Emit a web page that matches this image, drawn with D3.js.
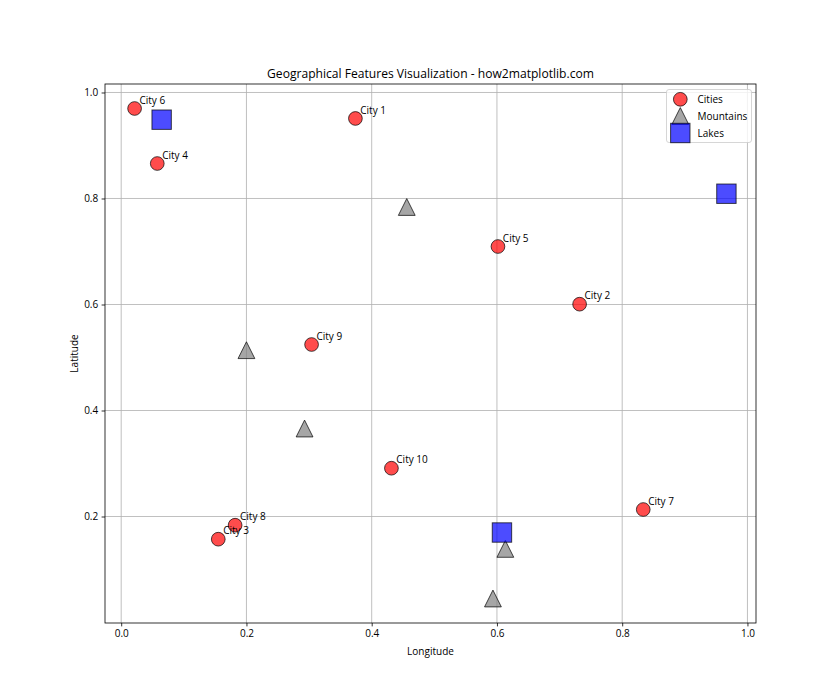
<!DOCTYPE html>
<html><head><meta charset="utf-8">
<script src="https://cdn.jsdelivr.net/npm/d3@7"></script>
<style>body{margin:0;background:#fff}svg{display:block}text{font-family:"Open Sans",sans-serif}</style>
</head><body><svg id="c" width="840" height="700"></svg>
<script>
const cityNames = ["City 1","City 2","City 3","City 4","City 5","City 6","City 7","City 8","City 9","City 10"];
const cityLon = [0.374,0.732,0.155,0.0576,0.6016,0.0214,0.8336,0.1819,0.304,0.4315];
const cityLat = [0.951,0.6006,0.1572,0.866,0.7094,0.9698,0.2132,0.1836,0.5245,0.2911];
const mountainLon = [0.456,0.200,0.2928,0.6134,0.5936];
const mountainLat = [0.784,0.5138,0.366,0.1389,0.0453];
const lakeLon = [0.0646,0.9664,0.608];
const lakeLat = [0.9487,0.809,0.1698];
const xTicks = [0.0,0.2,0.4,0.6,0.8,1.0];
const yTicks = [0.2,0.4,0.6,0.8,1.0];
const legendLabels = ["Cities","Mountains","Lakes"];

const svg = d3.select("#c");
const L=105, R=756, T=84, B=623;
const allX = cityLon.concat(mountainLon, lakeLon), allY = cityLat.concat(mountainLat, lakeLat);
const xmn=d3.min(allX), xmx=d3.max(allX), ymn=d3.min(allY), ymx=d3.max(allY);
const mx=(xmx-xmn)*0.05, my=(ymx-ymn)*0.05;
const x = d3.scaleLinear().domain([xmn-mx, xmx+mx]).range([L,R]);
const y = d3.scaleLinear().domain([ymn-my, ymx+my]).range([B,T]);

// grid
const g = svg.append("g");
g.selectAll(".gx").data(xTicks).enter().append("line")
  .attr("x1",d=>x(d)).attr("x2",d=>x(d)).attr("y1",T).attr("y2",B)
  .attr("stroke","#b0b0b0").attr("stroke-width",0.8);
g.selectAll(".gy").data(yTicks).enter().append("line")
  .attr("y1",d=>y(d)).attr("y2",d=>y(d)).attr("x1",L).attr("x2",R)
  .attr("stroke","#b0b0b0").attr("stroke-width",0.8);

const red="rgba(255,0,0,0.7)", gray="rgba(128,128,128,0.7)", blue="rgba(0,0,255,0.7)", edge="rgba(0,0,0,0.7)";
const cityD = 13.7, triS = 16.8, sqS = 19.4;
const tri = s => `M0,${-s/2}L${-s/2},${s/2}L${s/2},${s/2}Z`;

// cities
svg.append("g").selectAll("circle").data(cityLon).enter().append("circle")
  .attr("cx",(d)=>x(d)).attr("cy",(d,i)=>y(cityLat[i])).attr("r",cityD/2)
  .attr("fill",red).attr("stroke",edge).attr("stroke-width",1);
// mountains
svg.append("g").selectAll("path").data(mountainLon).enter().append("path")
  .attr("transform",(d,i)=>`translate(${x(d)},${y(mountainLat[i])})`).attr("d",tri(triS))
  .attr("fill",gray).attr("stroke",edge).attr("stroke-width",1);
// lakes
svg.append("g").selectAll("rect").data(lakeLon).enter().append("rect")
  .attr("x",d=>x(d)-sqS/2).attr("y",(d,i)=>y(lakeLat[i])-sqS/2).attr("width",sqS).attr("height",sqS)
  .attr("fill",blue).attr("stroke",edge).attr("stroke-width",1);
// labels
svg.append("g").selectAll("text").data(cityNames).enter().append("text")
  .attr("x",(d,i)=>x(cityLon[i])+4.9).attr("y",(d,i)=>y(cityLat[i])-4.9)
  .attr("font-size","10px").attr("fill","#000").text(d=>d);

// frame
svg.append("rect").attr("x",L).attr("y",T).attr("width",R-L).attr("height",B-T)
  .attr("fill","none").attr("stroke","#000").attr("stroke-width",0.8);

// axes
const xa = svg.append("g").attr("transform",`translate(0,${B})`)
  .call(d3.axisBottom(x).tickValues(xTicks).tickFormat(d3.format(".1f")).tickSize(3.4).tickPadding(3.4));
const ya = svg.append("g").attr("transform",`translate(${L},0)`)
  .call(d3.axisLeft(y).tickValues(yTicks).tickFormat(d3.format(".1f")).tickSize(3.4).tickPadding(3.4));
[xa,ya].forEach(a=>{a.select(".domain").remove();a.selectAll("line").attr("stroke","#000").attr("stroke-width",0.8);
  a.selectAll("text").attr("font-size","10px").attr("fill","#000").style("font-family",'"Open Sans",sans-serif');});

svg.append("text").attr("x",(L+R)/2).attr("y",78).attr("text-anchor","middle").attr("font-size","12.1px").text("Geographical Features Visualization - how2matplotlib.com");
svg.append("text").attr("x",(L+R)/2).attr("y",655).attr("text-anchor","middle").attr("font-size","10px").text("Longitude");
svg.append("text").attr("transform",`translate(78,${(T+B)/2}) rotate(-90)`).attr("text-anchor","middle").attr("font-size","10px").text("Latitude");

// legend
const lg = svg.append("g");
lg.append("rect").attr("x",666.5).attr("y",89.5).attr("width",85).attr("height",53).attr("rx",2.5)
  .attr("fill","rgba(255,255,255,0.8)").attr("stroke","#cccccc").attr("stroke-width",0.8);
const ly = [99.3,116,133];
lg.append("circle").attr("cx",680.3).attr("cy",ly[0]).attr("r",cityD/2).attr("fill",red).attr("stroke",edge);
lg.append("path").attr("transform",`translate(680.3,${ly[1]})`).attr("d",tri(triS)).attr("fill",gray).attr("stroke",edge);
lg.append("rect").attr("x",680.3-sqS/2).attr("y",ly[2]-sqS/2).attr("width",sqS).attr("height",sqS).attr("fill",blue).attr("stroke",edge);
lg.selectAll(".lt").data(legendLabels).enter().append("text").attr("x",697.5).attr("y",(d,i)=>ly[i]+3.5)
  .attr("font-size","10px").text(d=>d);
</script></body></html>
